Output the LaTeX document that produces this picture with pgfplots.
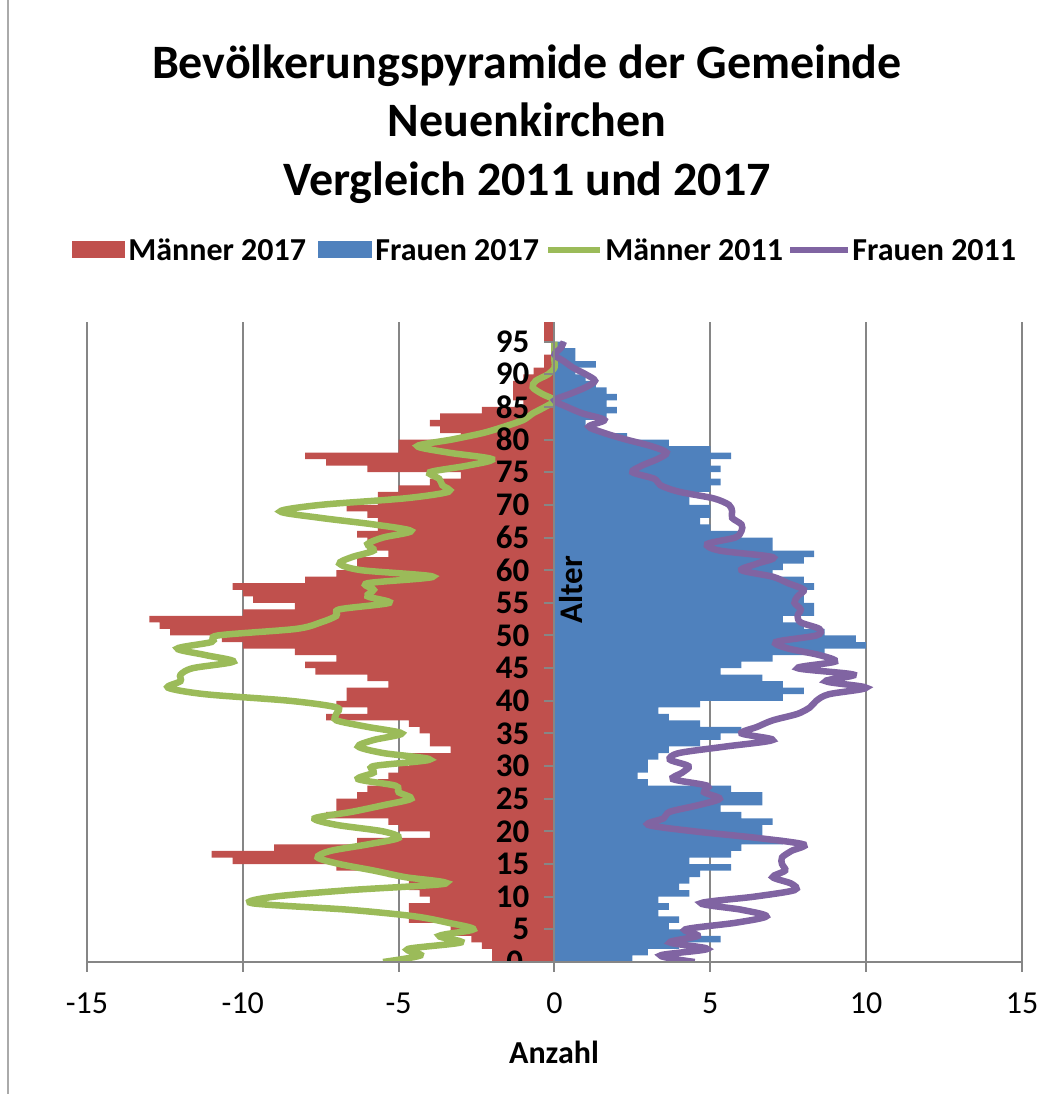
\documentclass[border=0pt]{standalone}
\usepackage{fontspec}
\setmainfont{Carlito}
\usepackage{pgfplots}
\usepackage{pgfplotstable}
\pgfplotsset{compat=1.18}
\definecolor{mred}{HTML}{C0504D}
\definecolor{fblue}{HTML}{4F81BD}
\definecolor{mgreen}{HTML}{9BBB59}
\definecolor{fpurple}{HTML}{8064A2}
\definecolor{gridgray}{HTML}{868686}

\pgfplotsset{
 layers/mylayers/.define layer set={axis background,axis grid,main,axis ticks,axis lines,axis tick labels,axis descriptions,axis foreground}{
  grid style={/pgfplots/on layer=axis grid},
  tick style={/pgfplots/on layer=axis ticks},
  axis line style={/pgfplots/on layer=axis lines},
  label style={/pgfplots/on layer=axis descriptions},
  legend style={/pgfplots/on layer=axis descriptions},
  title style={/pgfplots/on layer=axis descriptions},
  ticklabel style={/pgfplots/on layer=axis tick labels},
  axis background@ style={/pgfplots/on layer=axis background},
 },
}

% 2017: age, men (negative), women
\pgfplotstableread{
a m w
0 -2.0 2.5
1 -2.0 3.0
2 -2.33 4.0
3 -2.67 5.33
4 -3.33 4.33
5 -3.33 3.67
6 -4.67 4.0
7 -4.67 3.33
8 -4.67 3.67
9 -4.0 3.33
10 -4.33 4.33
11 -4.67 4.0
12 -4.67 4.33
13 -5.33 4.67
14 -7.0 5.67
15 -10.33 4.33
16 -11.0 5.67
17 -9.0 6.0
18 -6.33 7.33
19 -4.0 6.67
20 -5.0 6.67
21 -5.33 7.0
22 -7.33 6.0
23 -7.0 5.33
24 -7.0 6.67
25 -6.33 6.67
26 -6.0 5.67
27 -5.67 3.0
28 -5.33 2.67
29 -5.0 3.0
30 -4.67 3.0
31 -4.67 3.33
32 -3.33 3.67
33 -4.0 4.67
34 -4.0 5.33
35 -4.33 6.0
36 -4.67 4.67
37 -7.33 3.67
38 -6.0 3.33
39 -7.0 4.67
40 -6.67 7.33
41 -6.67 8.0
42 -5.33 7.33
43 -6.0 6.67
44 -7.67 5.33
45 -8.0 6.0
46 -7.0 7.0
47 -8.33 8.67
48 -10.0 10.0
49 -10.67 9.67
50 -12.33 8.67
51 -12.67 8.0
52 -13.0 7.33
53 -10.0 8.33
54 -8.33 8.33
55 -9.67 8.0
56 -10.0 8.0
57 -10.33 8.33
58 -8.0 8.0
59 -7.0 7.0
60 -6.33 7.33
61 -6.33 8.0
62 -5.33 8.33
63 -6.0 7.0
64 -6.0 7.0
65 -6.33 6.0
66 -5.67 5.0
67 -5.67 4.67
68 -6.0 5.0
69 -6.67 5.0
70 -5.67 4.33
71 -5.67 4.33
72 -5.0 5.0
73 -4.0 5.33
74 -3.0 5.0
75 -6.0 5.33
76 -7.33 5.0
77 -8.0 5.67
78 -5.0 5.0
79 -5.0 3.67
80 -3.0 2.33
81 -3.67 1.33
82 -4.0 1.0
83 -3.67 1.67
84 -2.33 2.0
85 -1.0 1.67
86 -1.33 2.0
87 -1.33 1.67
88 -1.33 1.33
89 -1.0 1.0
90 -0.67 0.67
91 -0.33 1.33
92 -0.33 0.67
93 0 0.67
94 0 0.33
95 -0.33 0
96 -0.33 0
97 -0.33 0
}\bars

% 2011: age, men, women
\pgfplotstableread{
a m w
0 -5.5 4.5
1 -4.3 3.4
2 -4.7 4.9
3 -3.0 3.7
4 -3.7 4.6
5 -2.6 4.2
6 -3.4 5.8
7 -4.5 6.8
8 -6.6 6.0
9 -9.7 4.7
10 -9.0 6.4
11 -6.6 7.7
12 -3.5 7.6
13 -4.8 7.0
14 -5.8 7.4
15 -6.9 7.3
16 -7.6 7.3
17 -7.2 7.6
18 -6.0 8.0
19 -5.0 6.5
20 -5.5 4.5
21 -7.0 3.0
22 -7.7 3.5
23 -6.5 3.7
24 -5.5 4.6
25 -4.6 5.3
26 -5.0 4.8
27 -5.1 4.9
28 -6.3 3.8
29 -5.8 4.1
30 -5.8 4.3
31 -4.0 3.7
32 -5.5 4.0
33 -6.3 5.5
34 -5.8 7.0
35 -4.9 6.0
36 -6.0 6.5
37 -7.0 7.0
38 -7.0 7.8
39 -7.0 8.2
40 -8.5 8.4
41 -11.2 8.8
42 -12.4 10.0
43 -12.0 8.7
44 -12.0 9.6
45 -11.6 7.8
46 -10.3 9.0
47 -11.2 8.5
48 -12.1 7.5
49 -11.0 7.1
50 -10.8 8.4
51 -8.3 8.5
52 -7.5 7.9
53 -7.0 7.8
54 -6.9 7.9
55 -5.3 7.7
56 -6.0 7.8
57 -5.8 8.0
58 -6.0 7.5
59 -3.9 7.0
60 -6.2 6.0
61 -6.9 6.5
62 -6.5 7.0
63 -5.8 5.3
64 -6.0 4.9
65 -5.5 5.8
66 -4.6 6.0
67 -5.8 6.0
68 -7.5 5.7
69 -8.8 5.7
70 -7.5 5.6
71 -4.8 5.1
72 -3.4 4.0
73 -3.6 3.4
74 -3.7 3.2
75 -4.0 2.5
76 -2.8 2.8
77 -2.0 3.3
78 -3.4 3.6
79 -4.4 3.1
80 -3.3 2.3
81 -2.3 1.6
82 -1.6 1.1
83 -1.0 1.6
84 -0.7 0.9
85 -0.3 0.4
86 0.0 0.0
87 -0.4 0.5
88 -0.7 1.0
89 -0.6 1.3
90 -0.2 1.0
91 0 0.6
92 0 0.3
93 0 0.0
94 0 0.2
95 0 0.3
}\lines

\begin{document}
\begin{tikzpicture}[x=1pt,y=1pt]
\begin{axis}[
 set layers=mylayers,
 at={(43.5pt,66pt)}, anchor=south west,
 scale only axis, width=467.5pt, height=320pt,
 xmin=-15, xmax=15, ymin=0, ymax=98,
 axis x line=bottom, axis y line=center,
 axis line style={gridgray, line width=1pt, -},
 xtick={-15,-10,...,15}, ytick={0,5,...,95},
 xmajorgrids, grid style={gridgray, line width=1pt},
 tick style={gridgray, line width=1pt},
 major tick length=5pt,
 tick align=outside,
 /pgf/number format/assume math mode=true,
 xticklabel style={font=\fontsize{16}{19}\selectfont, yshift=-7pt},
 yticklabel style={font=\bfseries\fontsize{16.5}{19}\selectfont, xshift=-4pt},
]
\addplot[xbar, bar width=1, bar shift=0pt, fill=mred, draw=none]
  table[x=m, y expr=\thisrow{a}+0.5] {\bars};
\addplot[xbar, bar width=1, bar shift=0pt, fill=fblue, draw=none]
  table[x=w, y expr=\thisrow{a}+0.5] {\bars};
\addplot[mgreen, line width=3.25pt, smooth, no marks]
  table[x=m, y=a] {\lines};
\addplot[fpurple, line width=3.25pt, smooth, no marks]
  table[x=w, y=a] {\lines};
\node[anchor=east, inner sep=0pt, xshift=-15.5pt, font=\bfseries\fontsize{16.5}{19}\selectfont] at (axis cs:0,0) {0};
\end{axis}
% title
\node[font=\bfseries\fontsize{24}{29.3}\selectfont, align=center] at (263.5pt,485pt)
  {Bevölkerungspyramide der Gemeinde\\Neuenkirchen\\Vergleich 2011 und 2017};
% legend
\begin{scope}[font=\bfseries\fontsize{16}{19}\selectfont]
\fill[mred] (36pt,417.75pt) rectangle (62.5pt,426.25pt);
\node[anchor=west, inner sep=0pt] at (64pt,422pt) {Männer 2017};
\fill[fblue] (159pt,417.75pt) rectangle (186pt,426.25pt);
\node[anchor=west, inner sep=0pt] at (187.5pt,422pt) {Frauen 2017};
\draw[mgreen, line width=3.25pt] (274pt,422pt) -- (300pt,422pt);
\node[anchor=west, inner sep=0pt] at (302.5pt,422pt) {Männer 2011};
\draw[fpurple, line width=3.25pt] (395pt,422pt) -- (424pt,422pt);
\node[anchor=west, inner sep=0pt] at (426pt,422pt) {Frauen 2011};
\end{scope}
\node[font=\bfseries\fontsize{16}{19}\selectfont] at (277pt,21pt) {Anzahl};
\node[font=\bfseries\fontsize{16.5}{19}\selectfont, rotate=90] at (285.5pt,252pt) {Alter};
\draw[gridgray!70, line width=0.75pt] (4pt,0pt) -- (4pt,547pt);
\pgfresetboundingbox
\path[use as bounding box] (0pt,0pt) rectangle (530pt,547pt);
\end{tikzpicture}
\end{document}
